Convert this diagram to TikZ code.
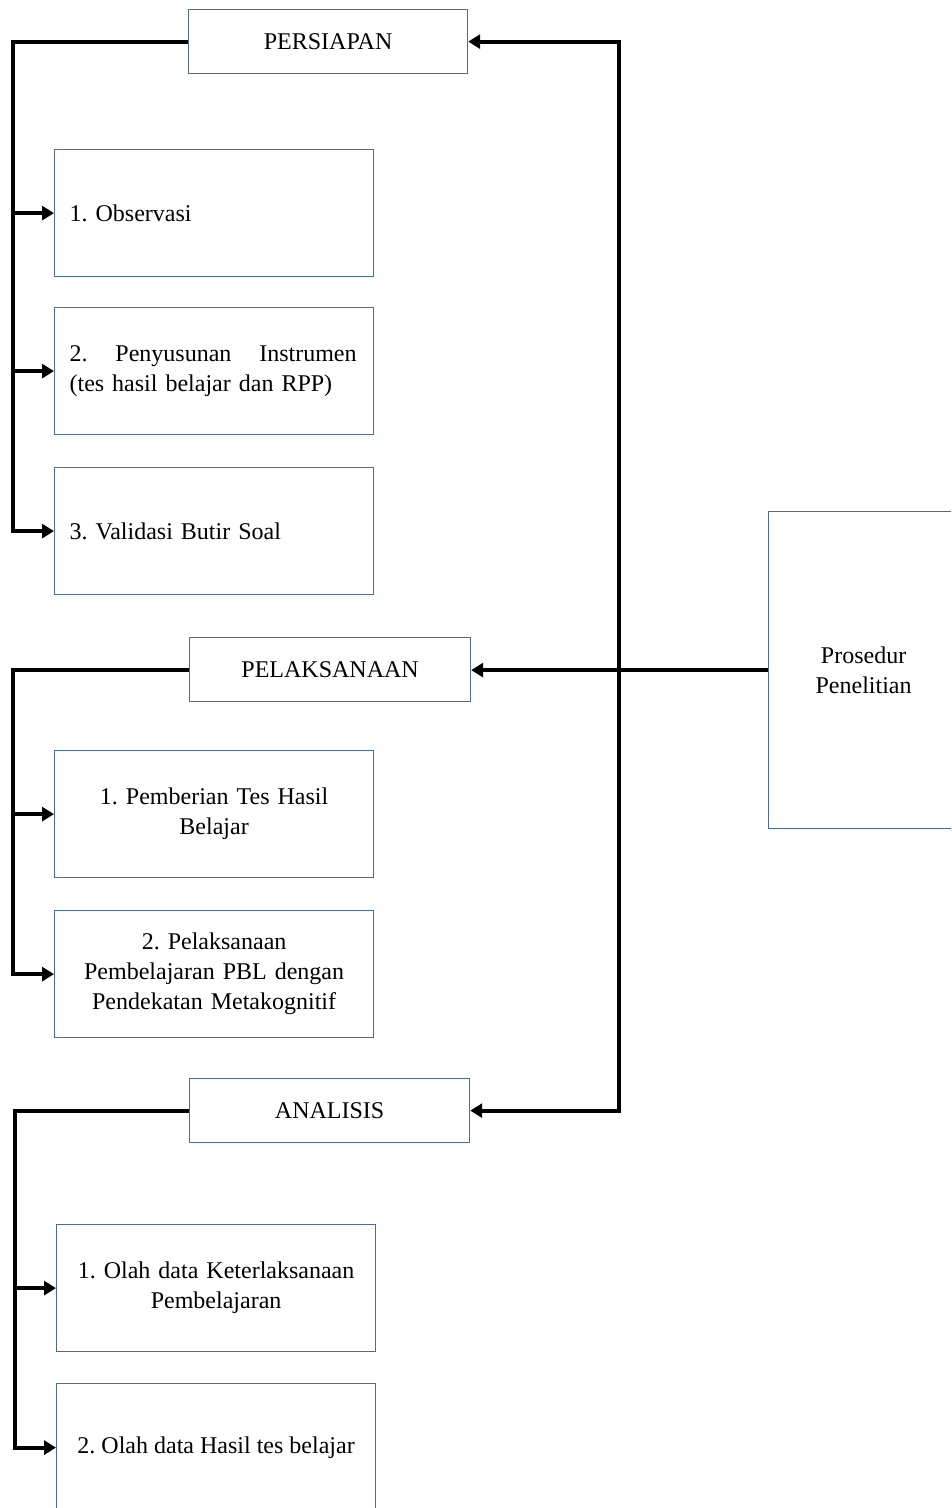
\documentclass[tikz,border=0pt]{standalone}
\usepackage{fontspec}
\setmainfont{Liberation Serif}
\frenchspacing
\usetikzlibrary{arrows.meta}
\definecolor{boxblue}{RGB}{72,106,172}
\begin{document}
\begin{tikzpicture}[x=1pt,y=-1pt,
  box/.style={draw=boxblue,line width=1.2pt,rectangle,anchor=north west,inner xsep=15pt,inner ysep=0pt,font=\fontsize{24}{30}\selectfont},
  head/.style={box,minimum width=280pt,minimum height=64pt,align=center},
  sub/.style={box,text width=289pt,minimum height=127pt},
  tip/.style={-{Triangle[length=12pt,width=14pt]}},
  conn/.style={line width=4pt,line join=miter,tip}]
\useasboundingbox (0,0) rectangle (951,1508);
\clip (0,0) rectangle (951,1508);
% boxes
\node[head,minimum width=279pt] (persiapan) at (188,9) {PERSIAPAN};
\node[sub,align=left] (obs) at (54,149) {1. Observasi};
\node[sub,align=left] (instr) at (54,307) {\makebox[287pt][l]{2.\hfill Penyusunan\hfill Instrumen}\\(tes hasil belajar dan RPP)};
\node[sub,align=left] (valid) at (54,467) {3. Validasi Butir Soal};
\node[head,minimum width=281pt] (pelak) at (189,637) {PELAKSANAAN};
\node[sub,align=center] (tes) at (54,750) {1. Pemberian Tes Hasil\\Belajar};
\node[sub,align=center] (pbl) at (54,910) {2. Pelaksanaan\\Pembelajaran PBL dengan\\Pendekatan Metakognitif};
\node[head,minimum width=280pt] (analisis) at (189,1078) {ANALISIS};
\node[sub,align=center] (olah1) at (56,1224) {1. Olah data Keterlaksanaan\\Pembelajaran};
\node[box,inner xsep=4pt,minimum width=319pt,minimum height=128pt,align=center] (olah2) at (56,1383) {2. Olah data Hasil tes belajar};
\node[box,text width=160pt,minimum height=317pt,align=center] (prosedur) at (768,511) {Prosedur\\Penelitian};
% bus x positions
\coordinate (x1) at (13,0);
\coordinate (x2) at (13,0);
\coordinate (x3) at (15,0);
\coordinate (xr) at (619,0);
% right side
\draw[conn] (prosedur.west) -- (prosedur.west -| pelak.east);
\draw[line width=4pt,line join=miter,{Triangle[length=12pt,width=14pt]}-{Triangle[length=12pt,width=14pt]}] (persiapan.east) -- (persiapan.east -| xr) |- (analisis.east);
% group 1
\draw[conn] (persiapan.west) -- (persiapan.west -| x1) |- (valid.west);
\draw[conn] (obs.west -| x1) -- (obs.west);
\draw[conn] (instr.west -| x1) -- (instr.west);
% group 2
\draw[conn] (pelak.west) -- (pelak.west -| x2) |- (pbl.west);
\draw[conn] (tes.west -| x2) -- (tes.west);
% group 3
\draw[conn] (analisis.west) -- (analisis.west -| x3) |- (olah2.west);
\draw[conn] (olah1.west -| x3) -- (olah1.west);
\end{tikzpicture}
\end{document}
